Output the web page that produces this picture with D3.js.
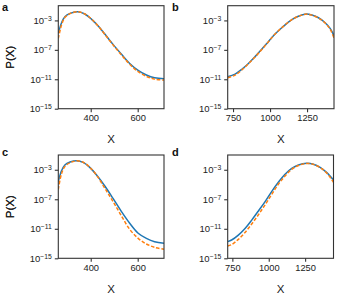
<!DOCTYPE html>
<html><head><meta charset="utf-8">
<script src="https://cdn.jsdelivr.net/npm/d3@7"></script>
<style>
html,body{margin:0;padding:0;background:#fff;}
svg{display:block;font-family:"Liberation Sans",Arial,Helvetica,sans-serif;}
</style></head>
<body><svg id="chart" width="340" height="300"></svg>
<script>
// ---- data ----
const panelLabels = ["a", "b", "c", "d"];
const yTickExponents = [-3, -7, -11, -15];
const xTicksLow = [400, 600];
const xTicksHigh = [750, 1000, 1250];

const xA = [262, 276, 290, 312, 344, 375, 403, 432, 460, 495, 531, 566, 602, 637, 672, 712];
const blueA = [1.7e-5, 4.9e-4, 3.2e-3, 9.1e-3, 1.5e-2, 7.4e-3, 1.5e-3, 1.7e-4, 1.4e-5, 5.5e-7, 2.5e-8, 1.4e-9, 1.6e-10, 3.8e-11, 1.6e-11, 1.2e-11];
const orangeA = [3.6e-6, 2.5e-4, 2.5e-3, 8.3e-3, 1.5e-2, 7.4e-3, 1.6e-3, 1.7e-4, 1.3e-5, 4.7e-7, 2.0e-8, 1.1e-9, 1.1e-10, 2.5e-11, 1.05e-11, 7.9e-12];

const xB = [714, 764, 809, 854, 899, 944, 989, 1034, 1079, 1124, 1169, 1214, 1248, 1282, 1327, 1372, 1406, 1432];
const blueB = [2.2e-11, 5.1e-11, 2.2e-10, 1.4e-9, 1.2e-8, 1.2e-7, 1.3e-6, 1.4e-5, 1.0e-4, 6.0e-4, 2.3e-3, 5.4e-3, 7.4e-3, 5.4e-3, 2.3e-3, 4.9e-4, 8.3e-5, 7.9e-6];
const orangeB = [1.6e-11, 3.7e-11, 1.8e-10, 1.3e-9, 1.07e-8, 1.1e-7, 1.26e-6, 1.4e-5, 1.0e-4, 5.9e-4, 2.3e-3, 5.2e-3, 7.2e-3, 5.2e-3, 2.2e-3, 4.5e-4, 6.3e-5, 4.0e-6];

const xC = [262, 276, 290, 312, 340, 368, 396, 425, 460, 495, 531, 566, 602, 637, 672, 712];
const blueC = [2.5e-5, 7.6e-4, 4.5e-3, 1.1e-2, 1.7e-2, 1.0e-2, 2.1e-3, 1.9e-4, 6.3e-6, 1.3e-7, 2.1e-9, 5.5e-11, 2.5e-12, 5.1e-13, 1.8e-13, 1.1e-13];
const orangeC = [2.2e-6, 3.2e-4, 2.8e-3, 8.9e-3, 1.6e-2, 1.05e-2, 2.2e-3, 1.8e-4, 3.2e-6, 5.0e-8, 5.4e-10, 8.5e-12, 5.1e-13, 8.7e-14, 3.1e-14, 1.7e-14];

const xD = [718, 745, 791, 837, 883, 929, 975, 1020, 1066, 1112, 1158, 1204, 1261, 1307, 1353, 1399, 1445];
const blueD = [1.8e-13, 3.0e-13, 1.4e-12, 1.1e-11, 1.5e-10, 2.6e-9, 4.8e-8, 1.1e-6, 2.0e-5, 2.4e-4, 1.5e-3, 4.5e-3, 7.4e-3, 5.5e-3, 2.1e-3, 4.1e-4, 4.1e-5];
const orangeD = [4.7e-14, 7.1e-14, 3.7e-13, 3.2e-12, 4.5e-11, 7.9e-10, 1.8e-8, 4.5e-7, 1.07e-5, 1.4e-4, 1.15e-3, 3.8e-3, 7.1e-3, 5.4e-3, 2.0e-3, 3.5e-4, 2.0e-5];

const xDomains = [[262, 712], [714, 1432], [262, 712], [718, 1445]];
const yDomain = [1e-15, 1e-1];

// ---- layout ----
const boxes = [
  {l: 58.3, r: 164, t: 5.7, b: 108.7, lx: 2, ly: 10.5},
  {l: 227.7, r: 334, t: 5.7, b: 108.7, lx: 172, ly: 10.5},
  {l: 58.3, r: 164, t: 155, b: 258.3, lx: 2, ly: 155.5},
  {l: 227.7, r: 333.5, t: 155, b: 258.3, lx: 172, ly: 155.5}
];
const panels = [
  {x: xA, blue: blueA, orange: orangeA, ticks: xTicksLow},
  {x: xB, blue: blueB, orange: orangeB, ticks: xTicksHigh},
  {x: xC, blue: blueC, orange: orangeC, ticks: xTicksLow},
  {x: xD, blue: blueD, orange: orangeD, ticks: xTicksHigh}
];

const svg = d3.select("#chart");
const frameColor = "#333";

panels.forEach((p, i) => {
  const bx = boxes[i];
  const w = bx.r - bx.l, h = bx.b - bx.t;
  const x = d3.scaleLinear().domain(xDomains[i]).range([0, w]);
  const y = d3.scaleLog().domain(yDomain).range([h, 0]);
  const g = svg.append("g").attr("transform", `translate(${bx.l},${bx.t})`);

  g.append("clipPath").attr("id", "clip" + i)
    .append("rect").attr("width", w).attr("height", h);

  const line = d3.line().x((d) => x(d[0])).y((d) => y(d[1])).curve(d3.curveCatmullRom.alpha(0.5));
  const plot = g.append("g").attr("clip-path", `url(#clip${i})`);
  plot.append("path").datum(p.x.map((v, k) => [v, p.blue[k]]))
    .attr("d", line).attr("fill", "none").attr("stroke", "#1f77b4").attr("stroke-width", 1.5);
  plot.append("path").datum(p.x.map((v, k) => [v, p.orange[k]]))
    .attr("d", line).attr("fill", "none").attr("stroke", "#ff7f0e").attr("stroke-width", 1.5)
    .attr("stroke-dasharray", "3.5,1.8");

  // frame
  g.append("rect").attr("width", w).attr("height", h)
    .attr("fill", "none").attr("stroke", frameColor).attr("stroke-width", 1.1);

  // x axis
  const xa = g.append("g").attr("transform", `translate(0,${h})`)
    .call(d3.axisBottom(x).tickValues(p.ticks).tickSize(3.5).tickPadding(2.5).tickFormat(d3.format("d")));
  xa.select(".domain").remove();
  xa.selectAll("line").attr("stroke", frameColor).attr("stroke-width", 1.1);
  xa.selectAll("text").attr("font-size", 9.3).attr("fill", "#222").attr("font-family", "Liberation Sans, Arial, sans-serif");

  // y axis
  const ya = g.append("g")
    .call(d3.axisLeft(y).tickValues(yTickExponents.map((e) => Math.pow(10, e))).tickSize(3.5).tickPadding(3));
  ya.select(".domain").remove();
  ya.selectAll("line").attr("stroke", frameColor).attr("stroke-width", 1.1);
  ya.selectAll("text").each(function(d) {
    const t = d3.select(this);
    const e = Math.round(Math.log10(d));
    t.text(null).attr("font-size", 9.5).attr("fill", "#222").attr("dy", "0.32em")
      .attr("font-family", "Liberation Sans, Arial, sans-serif");
    t.append("tspan").text("10");
    t.append("tspan").attr("dy", "-0.45em").attr("font-size", 6.8).text("\u2212" + Math.abs(e));
  });

  // axis labels
  g.append("text").attr("x", w / 2).attr("y", h + 34.5).attr("text-anchor", "middle")
    .attr("font-size", 11.5).attr("fill", "#222").text("X");
  g.append("text").attr("transform", `translate(${-bx.l + 14},${h / 2}) rotate(-90)`)
    .attr("text-anchor", "middle").attr("font-size", 11.5).attr("fill", "#222").text("P(X)");

  // panel letter
  svg.append("text").attr("x", bx.lx).attr("y", bx.ly).attr("font-size", 11)
    .attr("font-weight", "bold").attr("fill", "#111").text(panelLabels[i]);
});
</script></body></html>
